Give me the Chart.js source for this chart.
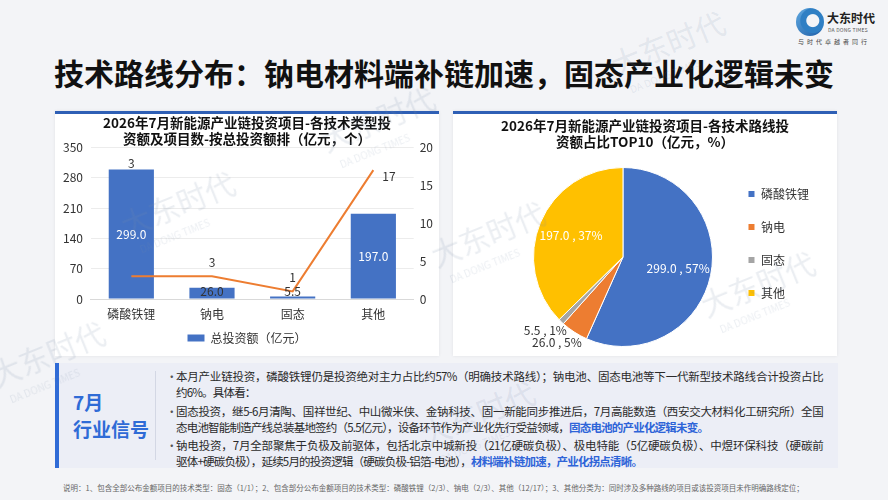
<!DOCTYPE html>
<html lang="zh-CN">
<head>
<meta charset="utf-8">
<title>技术路线分布</title>
<script src="https://cdn.jsdelivr.net/npm/chart.js@4.4.1/dist/chart.umd.min.js"></script>
<style>
  html, body { margin: 0; padding: 0; }
  body {
    width: 888px; height: 500px; overflow: hidden; position: relative;
    background: #f3f4f7;
    font-family: "Noto Sans CJK SC", "Noto Sans", sans-serif;
    color: #222;
  }
  .title {
    position: absolute; left: 0; top: 50px; width: 888px; text-align: center;
    font-size: 30px; font-weight: 700; line-height: 44px; color: #111;
  }
  .logo { position: absolute; left: 796px; top: 5px; width: 90px; height: 42px; }
  .logo .mark {
    position: absolute; left: 0; top: 3px; width: 28px; height: 28px; border-radius: 50%;
    background: radial-gradient(circle at 60% 45%, #f3f4f7 0 6px, #2f7fc4 7px 12px, transparent 13px),
                linear-gradient(135deg, #5fa8e0, #1d5ea8);
  }
  .logo .cn { position: absolute; left: 31px; top: 4px; font-size: 12px; font-weight: 700; color: #222; }
  .logo .en { position: absolute; left: 32px; top: 21px; font-size: 5px; color: #555; letter-spacing: .2px; }
  .logo .slogan { position: absolute; left: 2px; top: 32px; font-size: 6px; color: #444; letter-spacing: 3px; }
  .card {
    position: absolute; top: 111px; height: 242px; background: #fff;
    border-top: 3px solid #2e5fb5; box-shadow: 0 0 3px rgba(0,0,0,.08);
  }
  .card .box { position: absolute; left: 0; top: 0; right: 0; bottom: 0; }
  .card .ctitle {
    position: absolute; left: 0; right: 0; top: 3px; text-align: center;
    font-size: 13.5px; font-weight: 700; line-height: 16.2px; color: #111;
  }
  #leftCard { left: 55px; width: 384px; }
  #rightCard { left: 453px; width: 384px; }
  .signal {
    position: absolute; left: 55px; top: 363px; width: 783px; height: 105px;
    background: #eceef6; border-left: 4px solid #2f6bd6; box-sizing: border-box;
  }
  .signal .tag {
    position: absolute; left: 14px; top: 25px; color: #2f6bd6; font-weight: 700;
    font-size: 19px; line-height: 27px;
  }
  .signal .divider { position: absolute; left: 96px; top: 8px; bottom: 8px; width: 1px; background: #d3d7e4; }
  .signal .points { position: absolute; left: 104px; top: 5px; font-size: 11.5px; color: #2a2a2a; letter-spacing: -0.8px; }
  .signal .pt { position: relative; padding-left: 13px; margin-bottom: 2.5px; }
  .signal .pt::before { content: "•"; position: absolute; left: 3px; top: 0; color: #555; }
  .signal .ln { white-space: nowrap; line-height: 16px; }
  .signal .full { width: 647px; text-align: justify; text-align-last: justify; }
  .signal .hl { color: #2e64d8; font-weight: 700; }
  .note {
    position: absolute; left: 63px; top: 482px; font-size: 7.5px; color: #666; white-space: nowrap;
  }
  .wm { position: absolute; pointer-events: none; color: rgba(120,140,170,.15); transform: rotate(-22deg); white-space: nowrap; }
  .wm b { font-size: 30px; font-weight: 400; display: block; }
  .wm i { font-style: normal; font-size: 10px; display: block; margin-left: 8px; }
</style>
</head>
<body>
<div class="title">技术路线分布：钠电材料端补链加速，固态产业化逻辑未变</div>
<div class="logo">
  <div class="mark"></div>
  <div class="cn">大东时代</div>
  <div class="en">DA DONG TIMES</div>
  <div class="slogan">与时代卓越者同行</div>
</div>

<div class="card" id="leftCard"><div class="box"><canvas id="mixChart"></canvas></div></div>
<div class="card" id="rightCard">
  <div class="box"><canvas id="pieChart"></canvas></div>
  <div class="ctitle">2026年7月新能源产业链投资项目-各技术路线投<br>资额占比TOP10（亿元，%）</div>
</div>

<div class="signal">
  <div class="tag">7月<br>行业信号</div>
  <div class="divider"></div>
  <div class="points">
    <div class="pt">
      <div class="ln full">本月产业链投资，磷酸铁锂仍是投资绝对主力占比约57%（明确技术路线）；钠电池、固态电池等下一代新型技术路线合计投资占比</div>
      <div class="ln">约6%。具体看：</div>
    </div>
    <div class="pt">
      <div class="ln full">固态投资，继5-6月清陶、国祥世纪、中山微米侠、金钠科技、固一新能同步推进后，7月高能数造（西安交大材料化工研究所）全国</div>
      <div class="ln">态电池智能制造产线总装基地签约（5.5亿元），设备环节作为产业化先行受益领域，<span class="hl">固态电池的产业化逻辑未变。</span></div>
    </div>
    <div class="pt">
      <div class="ln full">钠电投资，7月全部聚焦于负极及前驱体，包括北京中城新投（21亿硬碳负极）、极电特能（5亿硬碳负极）、中煜环保科技（硬碳前</div>
      <div class="ln">驱体+硬碳负极），延续5月的投资逻辑（硬碳负极-铝箔-电池），<span class="hl">材料端补链加速，产业化拐点清晰。</span></div>
    </div>
  </div>
</div>
<div class="note">说明：1、包含全部公布金额项目的技术类型：固态（1/1）；2、包含部分公布金额项目的技术类型：磷酸铁锂（2/3）、钠电（2/3）、其他（12/17）；3、其他分类为：同时涉及多种路线的项目或该投资项目未作明确路线定位；</div>

<div class="wm" style="left:610px;top:20px"><b>大东时代</b><i>DA DONG TIMES</i></div>
<div class="wm" style="left:320px;top:95px"><b>大东时代</b><i>DA DONG TIMES</i></div>
<div class="wm" style="left:120px;top:180px"><b>大东时代</b><i>DA DONG TIMES</i></div>
<div class="wm" style="left:430px;top:210px"><b>大东时代</b><i>DA DONG TIMES</i></div>
<div class="wm" style="left:700px;top:260px"><b>大东时代</b><i>DA DONG TIMES</i></div>
<div class="wm" style="left:-10px;top:330px"><b>大东时代</b><i>DA DONG TIMES</i></div>
<div class="wm" style="left:420px;top:390px"><b>大东时代</b><i>DA DONG TIMES</i></div>

<script>
/* 数据：技术类型、总投资额（亿元）、项目数（个） */
const techTypes = ['磷酸铁锂', '钠电', '固态', '其他'];
const investAmount = [299.0, 26.0, 5.5, 197.0];
const projectCount = [3, 3, 1, 17];
const leftTicks = [0, 70, 140, 210, 280, 350];
const rightTicks = [0, 5, 10, 15, 20];
const sliceColors = ['#4472c4', '#ed7d31', '#a5a5a5', '#ffc000'];

Chart.defaults.font.family = '"Noto Sans CJK SC", "Noto Sans", sans-serif';
Chart.defaults.color = '#333';

/* 柱子和折线上的数值标签 */
const mixLabels = {
  id: 'mixLabels',
  afterDatasetsDraw(chart) {
    const ctx = chart.ctx;
    const bars = chart.getDatasetMeta(0).data;
    const points = chart.getDatasetMeta(1).data;
    ctx.save();
    ctx.font = '12px "Noto Sans CJK SC"';
    ctx.textBaseline = 'middle';
    bars.forEach((bar, i) => {
      const h = bar.base - bar.y;
      ctx.textAlign = 'center';
      if (h > 14) {
        ctx.fillStyle = '#fff';
        ctx.fillText(investAmount[i].toFixed(1), bar.x, (bar.y + bar.base) / 2);
      } else {
        ctx.fillStyle = '#333';
        ctx.fillText(investAmount[i].toFixed(1), bar.x, bar.base - 7);
      }
    });
    points.forEach((pt, i) => {
      ctx.fillStyle = '#333';
      if (i === points.length - 1) {
        ctx.textAlign = 'left';
        ctx.fillText(projectCount[i], pt.x + 9, pt.y + 6);
      } else {
        ctx.textAlign = 'center';
        // 点落在柱子里时，标签放到柱顶上方
        const y = pt.y > bars[i].y ? bars[i].y - 6 : pt.y - 14;
        ctx.fillText(projectCount[i], pt.x, y);
      }
    });
    ctx.restore();
  }
};

new Chart(document.getElementById('mixChart'), {
  type: 'bar',
  data: {
    labels: techTypes,
    datasets: [
      {
        label: '总投资额（亿元）',
        data: investAmount,
        backgroundColor: '#4472c4',
        yAxisID: 'y',
        barPercentage: 0.56,
        categoryPercentage: 1,
        order: 2
      },
      {
        type: 'line',
        label: '项目数（个）',
        data: projectCount,
        borderColor: '#ed7d31',
        borderWidth: 2,
        pointRadius: 0,
        tension: 0,
        yAxisID: 'y1',
        order: 1
      }
    ]
  },
  options: {
    responsive: true,
    maintainAspectRatio: false,
    animation: false,
    layout: { padding: { left: 0, right: 0, top: 0, bottom: 2 } },
    plugins: {
      title: {
        display: true,
        text: ['2026年7月新能源产业链投资项目-各技术类型投', '资额及项目数-按总投资额排（亿元，个）'],
        font: { size: 13.5, weight: 'bold' },
        color: '#111',
        padding: { top: 1, bottom: 0 },
        lineHeight: 1.25
      },
      legend: {
        position: 'bottom',
        labels: {
          filter: (item) => item.datasetIndex === 0,
          boxWidth: 17,
          boxHeight: 7,
          font: { size: 12 },
          padding: 10
        }
      },
      tooltip: { enabled: false }
    },
    scales: {
      x: {
        grid: { display: false, drawTicks: false },
        border: { color: '#d9d9d9' },
        ticks: { font: { size: 12 }, color: '#333', padding: 8 },
        afterFit: (scale) => { scale.height = 23; }
      },
      y: {
        position: 'left',
        min: 0,
        max: 350,
        afterBuildTicks: (axis) => { axis.ticks = leftTicks.map((v) => ({ value: v })); },
        grid: { color: '#ececec', drawTicks: false },
        border: { display: false },
        ticks: { font: { size: 12 }, color: '#333', padding: 8 }
      },
      y1: {
        position: 'right',
        min: 0,
        max: 20,
        afterBuildTicks: (axis) => { axis.ticks = rightTicks.map((v) => ({ value: v })); },
        grid: { display: false, drawTicks: false },
        border: { display: false },
        ticks: { font: { size: 12 }, color: '#333', padding: 6 }
      }
    }
  },
  plugins: [mixLabels]
});

/* 饼图上的“数值 , 占比”标签 */
const pieLabels = {
  id: 'pieLabels',
  afterDatasetsDraw(chart) {
    const ctx = chart.ctx;
    const arcs = chart.getDatasetMeta(0).data;
    const total = investAmount.reduce((a, b) => a + b, 0);
    ctx.save();
    ctx.font = '12px "Noto Sans CJK SC"';
    ctx.textBaseline = 'middle';
    arcs.forEach((arc, i) => {
      const share = investAmount[i] / total;
      const text = investAmount[i].toFixed(1) + ' , ' + Math.round(share * 100) + '%';
      const mid = (arc.startAngle + arc.endAngle) / 2;
      if (share > 0.1) {
        const r = arc.outerRadius * 0.63;
        ctx.fillStyle = '#fff';
        ctx.textAlign = 'center';
        ctx.fillText(text, arc.x + Math.cos(mid) * r, arc.y + Math.sin(mid) * r);
      } else {
        // 小扇区标签放在饼外
        const r = arc.outerRadius + 12;
        ctx.fillStyle = '#333';
        ctx.textAlign = 'right';
        ctx.fillText(text, arc.x + Math.cos(mid) * r + 14, arc.y + Math.sin(mid) * r);
      }
    });
    ctx.restore();
  }
};

new Chart(document.getElementById('pieChart'), {
  type: 'pie',
  data: {
    labels: techTypes,
    datasets: [{
      data: investAmount,
      backgroundColor: sliceColors,
      borderColor: '#fff',
      borderWidth: 1,
      hoverOffset: 0
    }]
  },
  options: {
    responsive: true,
    maintainAspectRatio: false,
    animation: false,
    layout: { padding: { left: 66, right: 18, top: 53, bottom: 9 } },
    plugins: {
      legend: {
        position: 'right',
        align: 'start',
        fullSize: false,
        labels: {
          boxWidth: 7,
          boxHeight: 7,
          font: { size: 12 },
          padding: 21
        }
      },
      tooltip: { enabled: false }
    }
  },
  plugins: [pieLabels]
});
</script>
</body>
</html>
